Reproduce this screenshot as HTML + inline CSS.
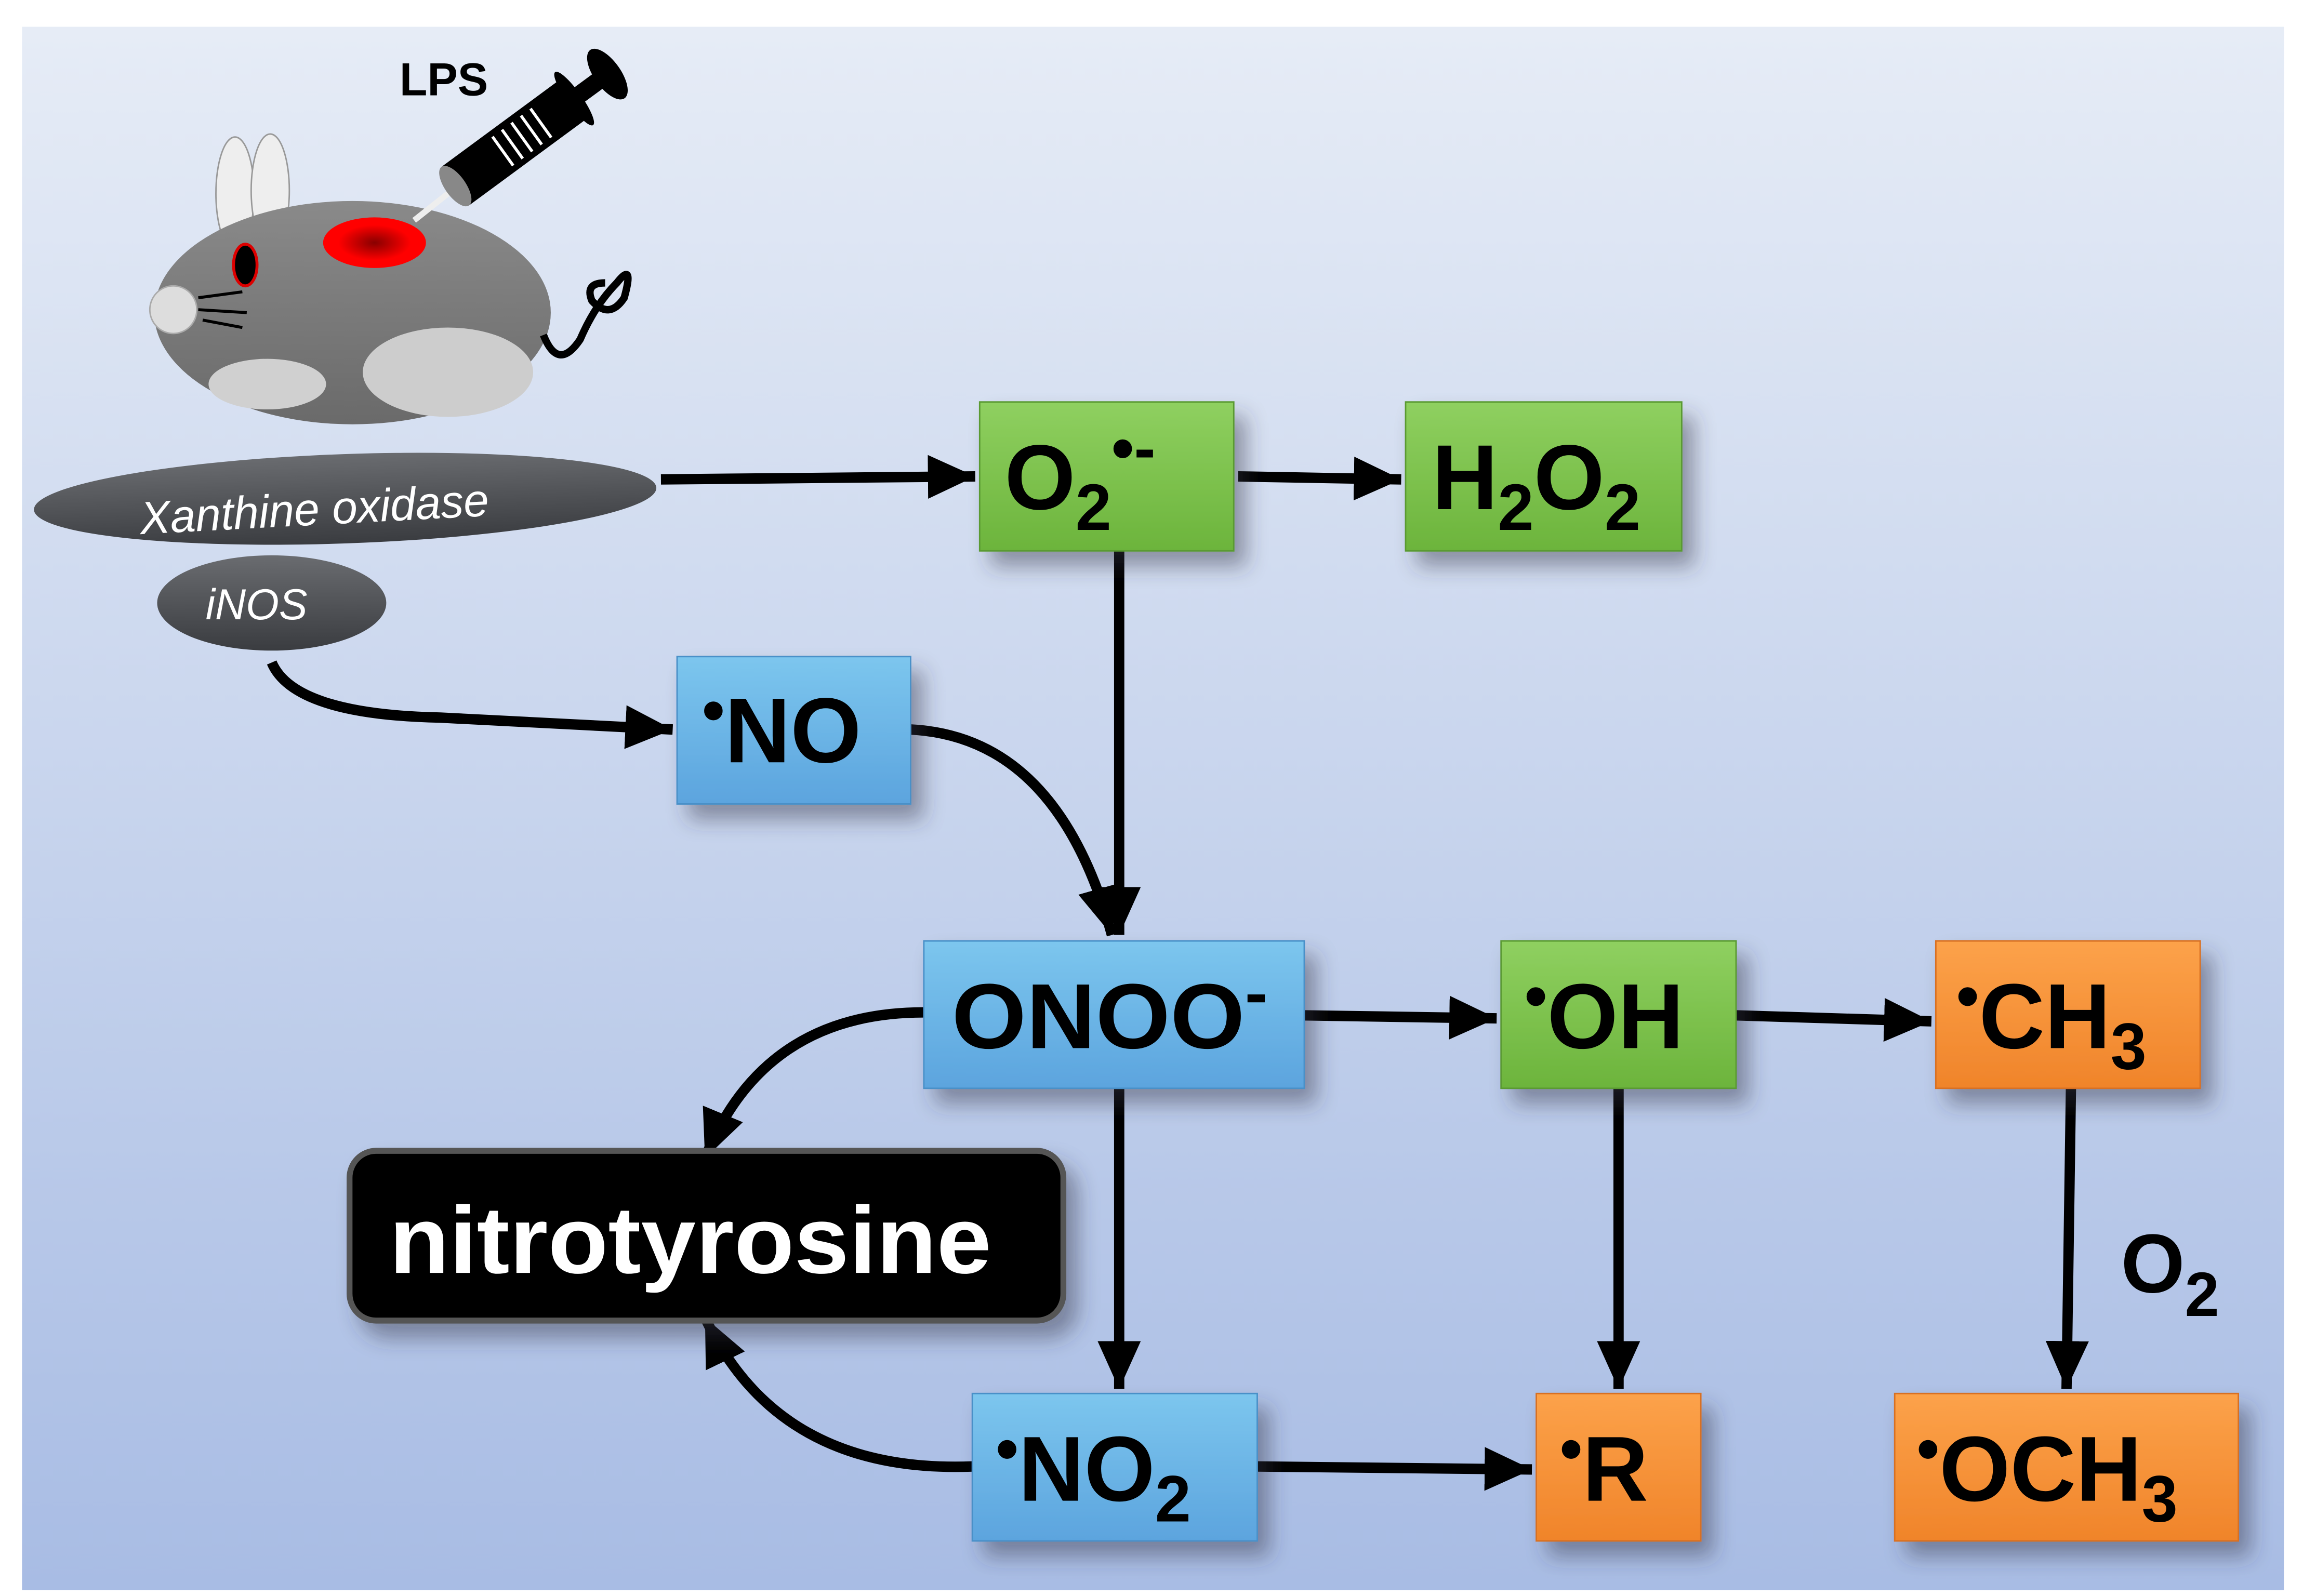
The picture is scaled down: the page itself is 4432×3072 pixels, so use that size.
<!DOCTYPE html>
<html><head><meta charset="utf-8"><style>html,body{margin:0;padding:0;background:#fff}svg{display:block}</style></head>
<body>
<svg width="4432" height="3072" viewBox="0 0 1568 1072" preserveAspectRatio="none" xmlns="http://www.w3.org/2000/svg" font-family="Liberation Sans, Arial, sans-serif">
<defs>
<linearGradient id="bg" x1="0" y1="0" x2="0" y2="1"><stop offset="0" stop-color="#e6ecf6"/><stop offset="1" stop-color="#a8bce4"/></linearGradient>
<linearGradient id="gr" x1="0" y1="0" x2="0" y2="1"><stop offset="0" stop-color="#8fd060"/><stop offset="1" stop-color="#6cb43c"/></linearGradient>
<linearGradient id="bl" x1="0" y1="0" x2="0" y2="1"><stop offset="0" stop-color="#7cc6ee"/><stop offset="1" stop-color="#5ca4de"/></linearGradient>
<linearGradient id="or" x1="0" y1="0" x2="0" y2="1"><stop offset="0" stop-color="#fca24a"/><stop offset="1" stop-color="#f0842a"/></linearGradient>
<radialGradient id="red"><stop offset="0" stop-color="#800"/><stop offset="0.7" stop-color="#f00"/></radialGradient>
<linearGradient id="body" x1="0" y1="0" x2="0" y2="1"><stop offset="0" stop-color="#8a8a8a"/><stop offset="1" stop-color="#6a6a6a"/></linearGradient>
<linearGradient id="dk" x1="0" y1="0" x2="0" y2="1"><stop offset="0" stop-color="#6a6c70"/><stop offset="1" stop-color="#3a3c40"/></linearGradient>
<filter id="sh" x="-20%" y="-20%" width="150%" height="160%"><feDropShadow dx="8" dy="10" stdDeviation="7" flood-color="#334" flood-opacity="0.45"/></filter>
<marker id="ah" markerWidth="6" markerHeight="6" refX="4.6" refY="2.3" orient="auto" markerUnits="strokeWidth"><path d="M0,0.2 L4.6,2.3 L0,4.4z" fill="#000"/></marker>
</defs>
<rect x="15" y="18" width="1540" height="1050" fill="url(#bg)"/>

<g>
<ellipse cx="160" cy="130" rx="13" ry="38" fill="#eee" stroke="#999"/>
<ellipse cx="184" cy="128" rx="13" ry="38" fill="#eee" stroke="#999"/>
<ellipse cx="240" cy="210" rx="135" ry="75" fill="url(#body)"/>
<path d="M370,225 Q380,250 395,228 Q405,205 420,190 Q432,175 425,200 Q415,215 403,202 Q398,190 412,190" fill="none" stroke="#000" stroke-width="5"/>
<ellipse cx="167" cy="178" rx="8" ry="14" fill="#000" stroke="#d00" stroke-width="2"/>
<ellipse cx="118" cy="208" rx="16" ry="16" fill="#ddd" stroke="#aaa"/>
<path d="M135,200 L165,196 M135,208 L168,210 M138,215 L165,220" stroke="#000" stroke-width="2"/>
<ellipse cx="182" cy="258" rx="40" ry="17" fill="#d0d0d0"/>
<ellipse cx="305" cy="250" rx="58" ry="30" fill="#cdcdcd"/>
<ellipse cx="255" cy="163" rx="35" ry="17" fill="url(#red)"/>
<line x1="282" y1="148" x2="305" y2="130" stroke="#eee" stroke-width="4"/>
<g transform="translate(310,125) rotate(-36)">
<rect x="0" y="-16" width="100" height="32" fill="#000"/>
<ellipse cx="0" cy="0" rx="7" ry="16" fill="#888"/>
<rect x="100" y="-6" width="25" height="12" fill="#000"/>
<ellipse cx="100" cy="0" rx="5" ry="22" fill="#000"/>
<ellipse cx="128" cy="0" rx="9" ry="20" fill="#000"/>
<path d="M40,-12 v24 M48,-12 v24 M56,-12 v24 M64,-12 v24 M72,-12 v24" stroke="#fff" stroke-width="2"/>
</g>
<text x="272" y="64" font-size="31" font-weight="bold">LPS</text>
</g>

<ellipse cx="235" cy="335" rx="212" ry="30" fill="url(#dk)" transform="rotate(-2 235 335)"/>
<text x="95" y="352" font-size="31" font-style="italic" fill="#fff" transform="rotate(-3 225 340)">Xanthine oxidase</text>
<ellipse cx="185" cy="405" rx="78" ry="32" fill="url(#dk)"/>
<text x="140" y="416" font-size="29" font-style="italic" fill="#fff">iNOS</text>

<g stroke="#000" stroke-width="7" fill="none" marker-end="url(#ah)">
<path d="M450,322 L664,320"/>
<path d="M843,320 L954,322"/>
<path d="M762,370 L762,628"/>
<path d="M185,445 Q200,480 300,482 L458,490"/>
<path d="M620,490 Q720,495 757,628"/>
<path d="M888,682 L1019,684"/>
<path d="M1182,682 L1315,686"/>
<path d="M629,680 Q520,680 480,778"/>
<path d="M762,731 L762,933"/>
<path d="M662,985 Q530,990 480,885"/>
<path d="M856,985 L1043,987"/>
<path d="M1102,731 L1102,933"/>
<path d="M1410,731 L1407,933"/>
</g>

<rect x="238" y="773" width="486" height="114" rx="18" fill="#000" filter="url(#sh)" stroke="#555" stroke-width="4"/>
<text x="265" y="855" font-size="64" font-weight="bold" fill="#fff" textLength="410" lengthAdjust="spacingAndGlyphs">nitrotyrosine</text>

<g filter="url(#sh)">
<rect x="667" y="270" width="173" height="100" fill="url(#gr)" stroke="#5a9a30"/>
<rect x="957" y="270" width="188" height="100" fill="url(#gr)" stroke="#5a9a30"/>
<rect x="461" y="441" width="159" height="99" fill="url(#bl)" stroke="#4a90c8"/>
<rect x="629" y="632" width="259" height="99" fill="url(#bl)" stroke="#4a90c8"/>
<rect x="1022" y="632" width="160" height="99" fill="url(#gr)" stroke="#5a9a30"/>
<rect x="1318" y="632" width="180" height="99" fill="url(#or)" stroke="#d87020"/>
<rect x="662" y="936" width="194" height="99" fill="url(#bl)" stroke="#4a90c8"/>
<rect x="1046" y="936" width="112" height="99" fill="url(#or)" stroke="#d87020"/>
<rect x="1290" y="936" width="234" height="99" fill="url(#or)" stroke="#d87020"/>
</g>
<g font-weight="bold" font-size="62" fill="#000">
<text x="684" y="342">O<tspan font-size="44" dy="14">2</tspan><tspan font-size="44" dy="-40">•-</tspan></text>
<text x="975" y="342">H<tspan font-size="44" dy="14">2</tspan><tspan dy="-14">O</tspan><tspan font-size="44" dy="14">2</tspan></text>
<text x="478" y="512"><tspan font-size="44" dy="-20">•</tspan><tspan dy="20">NO</tspan></text>
<text x="648" y="704" textLength="215" lengthAdjust="spacingAndGlyphs">ONOO<tspan font-size="44" dy="-22">-</tspan></text>
<text x="1038" y="704"><tspan font-size="44" dy="-20">•</tspan><tspan dy="20">OH</tspan></text>
<text x="1332" y="704"><tspan font-size="44" dy="-20">•</tspan><tspan dy="20">CH</tspan><tspan font-size="44" dy="14">3</tspan></text>
<text x="678" y="1008"><tspan font-size="44" dy="-20">•</tspan><tspan dy="20">NO</tspan><tspan font-size="44" dy="14">2</tspan></text>
<text x="1062" y="1008"><tspan font-size="44" dy="-20">•</tspan><tspan dy="20">R</tspan></text>
<text x="1305" y="1008"><tspan font-size="44" dy="-20">•</tspan><tspan dy="20">OCH</tspan><tspan font-size="44" dy="14">3</tspan></text>
<text x="1444" y="868" font-size="56">O<tspan font-size="42" dy="16">2</tspan></text>
</g>
</svg>
</body></html>
